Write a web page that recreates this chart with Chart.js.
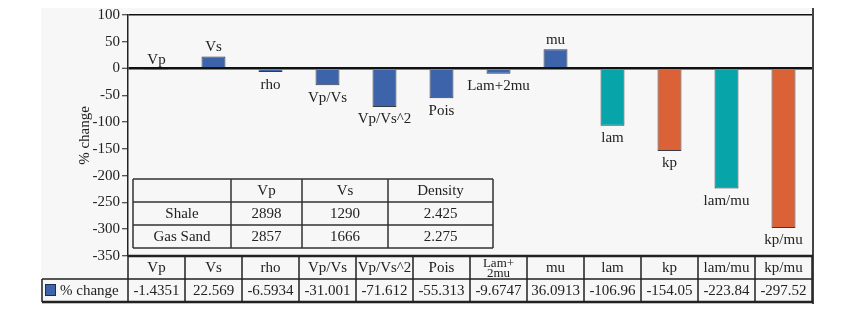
<!DOCTYPE html>
<html>
<head>
<meta charset="utf-8">
<script src="https://cdn.jsdelivr.net/npm/chart.js@4/dist/chart.umd.min.js"></script>
<style>
  html, body { margin: 0; padding: 0; background: #fff; }
  #wrap { width: 867px; height: 316px; position: relative; }
</style>
</head>
<body>
<div id="wrap"><canvas id="pctChart"></canvas></div>
<script>
// data
const categories = ['Vp', 'Vs', 'rho', 'Vp/Vs', 'Vp/Vs^2', 'Pois', 'Lam+2mu', 'mu', 'lam', 'kp', 'lam/mu', 'kp/mu'];
const pctChange = [-1.4351, 22.569, -6.5934, -31.001, -71.612, -55.313, -9.6747, 36.0913, -106.96, -154.05, -223.84, -297.52];
const seriesName = '% change';
const yMin = -350, yMax = 100, yStep = 50;

// little table of rock properties
const rockCols = ['Vp', 'Vs', 'Density'];
const rockRows = ['Shale', 'Gas Sand'];
const shaleVals = ['2898', '1290', '2.425'];
const gasSandVals = ['2857', '1666', '2.275'];

const BLUE = '#3d63ab', TEAL = '#07a4a9', ORANGE = '#db6237';
const barColors = [BLUE, BLUE, BLUE, BLUE, BLUE, BLUE, BLUE, BLUE, TEAL, ORANGE, TEAL, ORANGE];
const SERIF = '"Liberation Serif", "DejaVu Serif", serif';
const INK = '#222';

const ctx = document.getElementById('pctChart').getContext('2d');

const extras = {
  id: 'extras',
  beforeDraw(chart) {
    const c = chart.ctx;
    c.save();
    c.fillStyle = '#f7f7f7';
    c.fillRect(41, 8, 772, 296);
    c.restore();
  },
  afterDatasetsDraw(chart) {
    const c = chart.ctx;
    const meta = chart.getDatasetMeta(0);
    c.save();
    c.font = '15px ' + SERIF;
    c.fillStyle = INK;
    c.textAlign = 'center';
    meta.data.forEach(function(bar, i) {
      const v = pctChange[i];
      const top = Math.min(bar.y, bar.base), bottom = Math.max(bar.y, bar.base);
      if (v >= 0 || bottom - top < 2) {
        c.textBaseline = 'bottom';
        c.fillText(categories[i], bar.x, top - 2);
      } else {
        c.textBaseline = 'top';
        c.fillText(categories[i], bar.x, bottom + 5);
      }
    });
    c.restore();
  },
  afterDraw(chart) {
    const c = chart.ctx;
    const a = chart.chartArea;
    c.save();

    // right frame edge
    c.strokeStyle = '#444';
    c.lineWidth = 2;
    c.beginPath();
    c.moveTo(a.right + 1, 8); c.lineTo(a.right + 1, 304);
    c.stroke();

    // inner rock table
    const tx = [a.left + 5, a.left + 103, a.left + 174, a.left + 260, a.left + 365];
    const ty = [179, 202, 225, 248];
    c.strokeStyle = '#333';
    c.lineWidth = 1.5;
    c.fillStyle = '#f7f7f7';
    c.fillRect(tx[0], ty[0], tx[4] - tx[0], ty[3] - ty[0]);
    c.beginPath();
    tx.forEach(function(x) { c.moveTo(x, ty[0]); c.lineTo(x, ty[3]); });
    ty.forEach(function(y) { c.moveTo(tx[0], y); c.lineTo(tx[4], y); });
    c.stroke();
    c.fillStyle = INK;
    c.font = '15px ' + SERIF;
    c.textAlign = 'center';
    c.textBaseline = 'middle';
    rockCols.forEach(function(t, j) {
      c.fillText(t, (tx[j + 1] + tx[j + 2]) / 2, (ty[0] + ty[1]) / 2 + 1);
    });
    [shaleVals, gasSandVals].forEach(function(vals, r) {
      const cy = (ty[r + 1] + ty[r + 2]) / 2 + 1;
      c.fillText(rockRows[r], (tx[0] + tx[1]) / 2, cy);
      vals.forEach(function(t, j) {
        c.fillText(t, (tx[j + 1] + tx[j + 2]) / 2, cy);
      });
    });

    // data table under the plot
    const colW = a.width / categories.length;
    const top = a.bottom, mid = a.bottom + 23, bot = a.bottom + 46;
    const legL = 42;
    c.strokeStyle = INK;
    c.lineWidth = 1.5;
    c.beginPath();
    for (let i = 0; i <= categories.length; i++) {
      const x = a.left + i * colW;
      c.moveTo(x, top); c.lineTo(x, bot);
    }
    c.moveTo(legL, mid); c.lineTo(a.right, mid);
    c.moveTo(legL, mid); c.lineTo(legL, bot);
    c.stroke();
    c.lineWidth = 2.5;
    c.beginPath();
    c.moveTo(a.left, top); c.lineTo(a.right + 1, top);
    c.moveTo(legL, bot); c.lineTo(a.right + 1, bot);
    c.stroke();

    c.fillStyle = INK;
    c.font = '15px ' + SERIF;
    c.textAlign = 'center';
    c.textBaseline = 'middle';
    categories.forEach(function(name, i) {
      const cx = a.left + (i + 0.5) * colW;
      if (c.measureText(name).width > colW - 4 && name.indexOf('+') > 0) {
        const k = name.indexOf('+') + 1;
        c.font = '13px ' + SERIF;
        c.fillText(name.slice(0, k), cx, (top + mid) / 2 - 4);
        c.fillText(name.slice(k), cx, (top + mid) / 2 + 6);
        c.font = '15px ' + SERIF;
      } else {
        c.fillText(name, cx, (top + mid) / 2 + 1);
      }
      c.fillText(String(pctChange[i]), cx, (mid + bot) / 2 + 1);
    });

    // legend key
    c.fillStyle = BLUE;
    c.fillRect(45, mid + 5, 11, 12);
    c.strokeStyle = '#1d2d50';
    c.lineWidth = 1;
    c.strokeRect(45.5, mid + 5.5, 10, 11);
    c.fillStyle = INK;
    c.textAlign = 'left';
    c.fillText(seriesName, 60, (mid + bot) / 2 + 1);

    c.restore();
  }
};

new Chart(ctx, {
  type: 'bar',
  data: {
    labels: categories,
    datasets: [{
      label: seriesName,
      data: pctChange,
      backgroundColor: barColors,
      borderColor: 'rgba(25,25,35,0.85)',
      borderWidth: 1,
      barPercentage: 0.42,
      categoryPercentage: 1
    }]
  },
  options: {
    responsive: true,
    maintainAspectRatio: false,
    animation: false,
    layout: { padding: { left: 41, right: 55, top: 15, bottom: 60 } },
    plugins: {
      legend: { display: false },
      tooltip: { enabled: false }
    },
    scales: {
      x: { display: false },
      y: {
        min: yMin,
        max: yMax,
        afterFit: function(s) { s.width = 87; },
        ticks: {
          stepSize: yStep,
          color: INK,
          padding: 2,
          font: { family: SERIF, size: 15 }
        },
        grid: {
          color: function(g) { return (g.tick && (g.tick.value === 0 || g.tick.value === yMax)) ? '#111' : 'rgba(0,0,0,0)'; },
          lineWidth: function(g) { return (g.tick && g.tick.value === 0) ? 2.5 : 1.5; },
          tickColor: INK,
          tickWidth: 1,
          tickLength: 6
        },
        border: { color: INK, width: 1.5 },
        title: {
          display: true,
          text: seriesName,
          color: INK,
          padding: { top: 35, bottom: 0 },
          font: { family: SERIF, size: 15 }
        }
      }
    }
  },
  plugins: [extras]
});
</script>
</body>
</html>
